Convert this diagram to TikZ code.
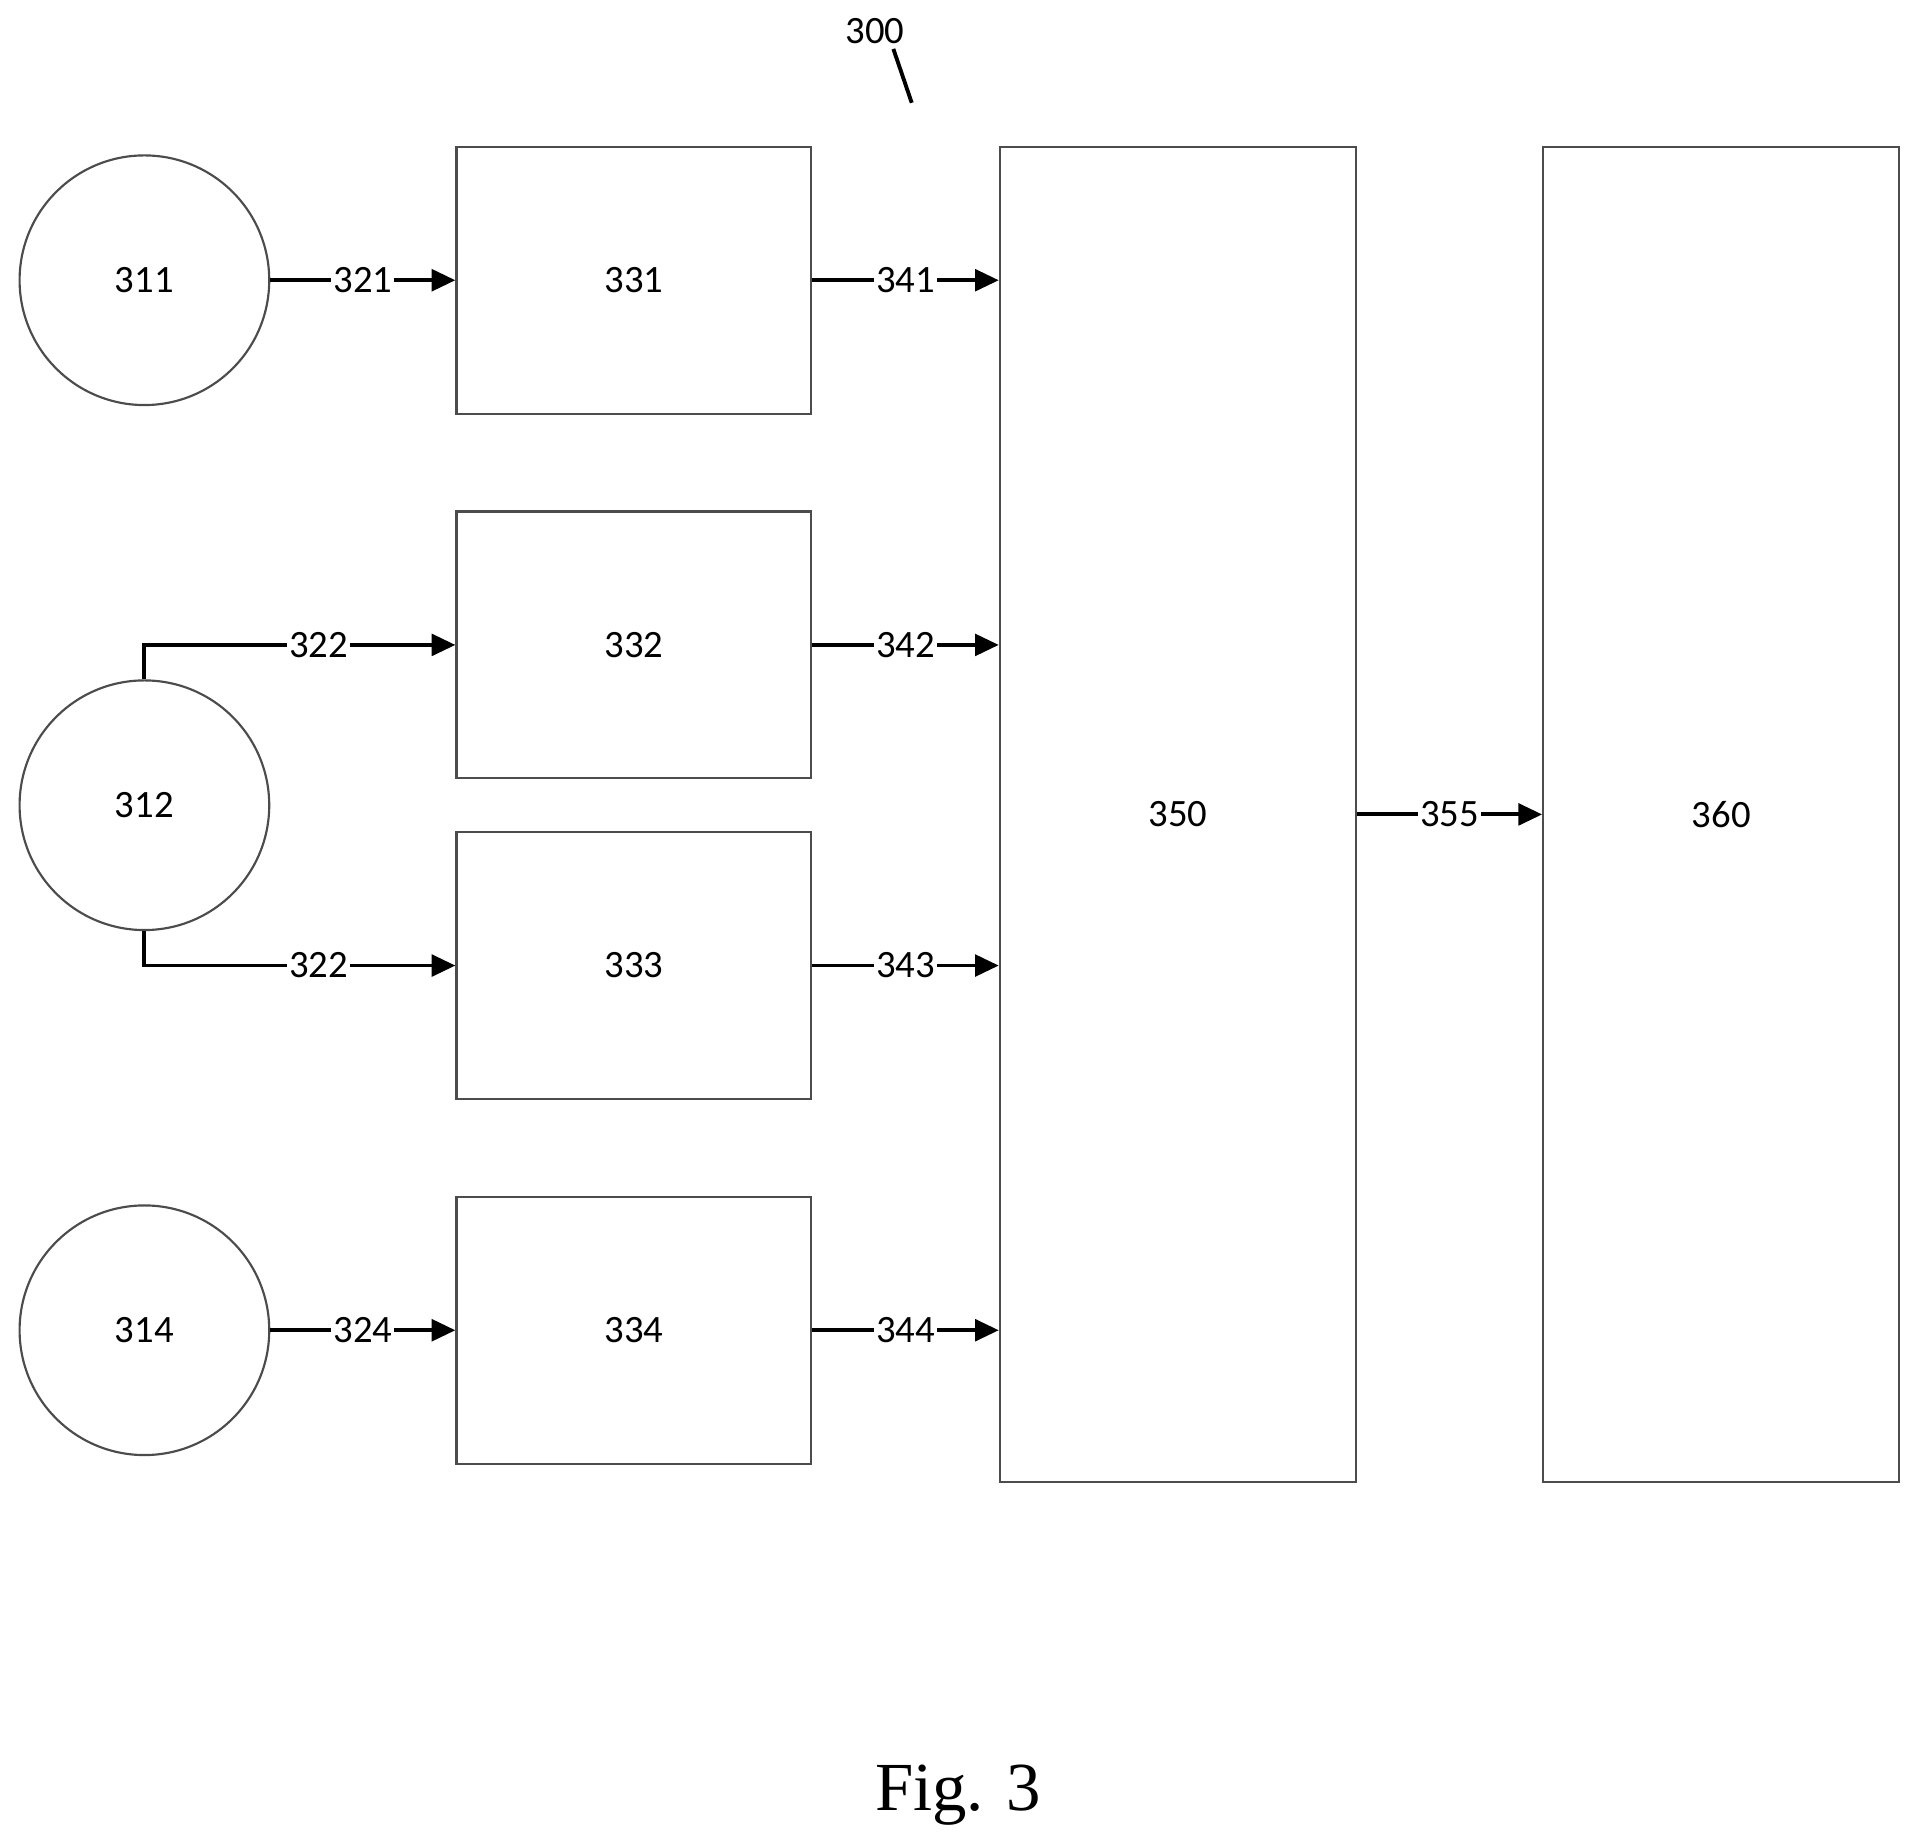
\documentclass[tikz,border=0pt]{standalone}
\usepackage{fontspec}
\setmainfont{Carlito}
\newfontfamily\figfont{Liberation Serif}
\usetikzlibrary{positioning,arrows.meta}

\tikzset{
    src/.style={circle, draw=black!70, line width=0.5pt, minimum size=2.04cm, inner sep=0pt},
    blk/.style={rectangle, draw=black!70, line width=0.5pt, minimum width=2.9cm, minimum height=2.18cm, inner sep=0pt},
    big/.style={rectangle, draw=black!70, line width=0.5pt, minimum width=2.91cm, minimum height=10.91cm, inner sep=0pt},
    flow/.style={line width=0.9pt, -{Triangle[length=5.5pt,width=5pt]}},
    tag/.style={fill=white, inner sep=0.5pt, font=\fontsize{9}{11}\selectfont}
}

\begin{document}
\begin{tikzpicture}[font=\fontsize{9}{11}\selectfont]
    \useasboundingbox (0,0) rectangle (15.64,-15.05);

    % Bronnen
    \node[src] (s311) at (1.18,-2.29) {311};
    \node[src] (s312) at (1.18,-6.58) {312};
    \node[src] (s314) at (1.18,-10.87) {314};

    % Blokken
    \node[blk] (b331) at (5.18,-2.29) {331};
    \node[blk] (b332) at (5.18,-5.27) {332};
    \node[blk] (b333) at (5.18,-7.89) {333};
    \node[blk] (b334) at (5.18,-10.87) {334};

    \node[big] (b350) at (9.625,-6.655) {350};
    \node[big] (b360) at (14.065,-6.655) {360};

    % Pijlen
    \draw[flow] (s311.east) -- node[tag] {321} (b331.west);
    \draw[flow] (s314.east) -- node[tag] {324} (b334.west);
    \draw[flow] (s312.north) |- node[tag, pos=0.78] {322} (b332.west);
    \draw[flow] (s312.south) |- node[tag, pos=0.78] {322} (b333.west);

    \draw[flow] (b331.east) -- node[tag] {341} (b331.east -| b350.west);
    \draw[flow] (b332.east) -- node[tag] {342} (b332.east -| b350.west);
    \draw[flow] (b333.east) -- node[tag] {343} (b333.east -| b350.west);
    \draw[flow] (b334.east) -- node[tag] {344} (b334.east -| b350.west);

    \draw[flow] (b350.east) -- node[tag] {355} (b360.west);

    % Verwijzing
    \node (n300) at (7.15,-0.25) {300};
    \coordinate (p300) at (7.45,-0.84);
    \draw[line width=0.9pt] (7.30,-0.40) -- (p300);

    \node[font=\figfont\fontsize{16}{19}\selectfont] (cap) at (7.83,-14.67) {Fig. 3};
\end{tikzpicture}
\end{document}
